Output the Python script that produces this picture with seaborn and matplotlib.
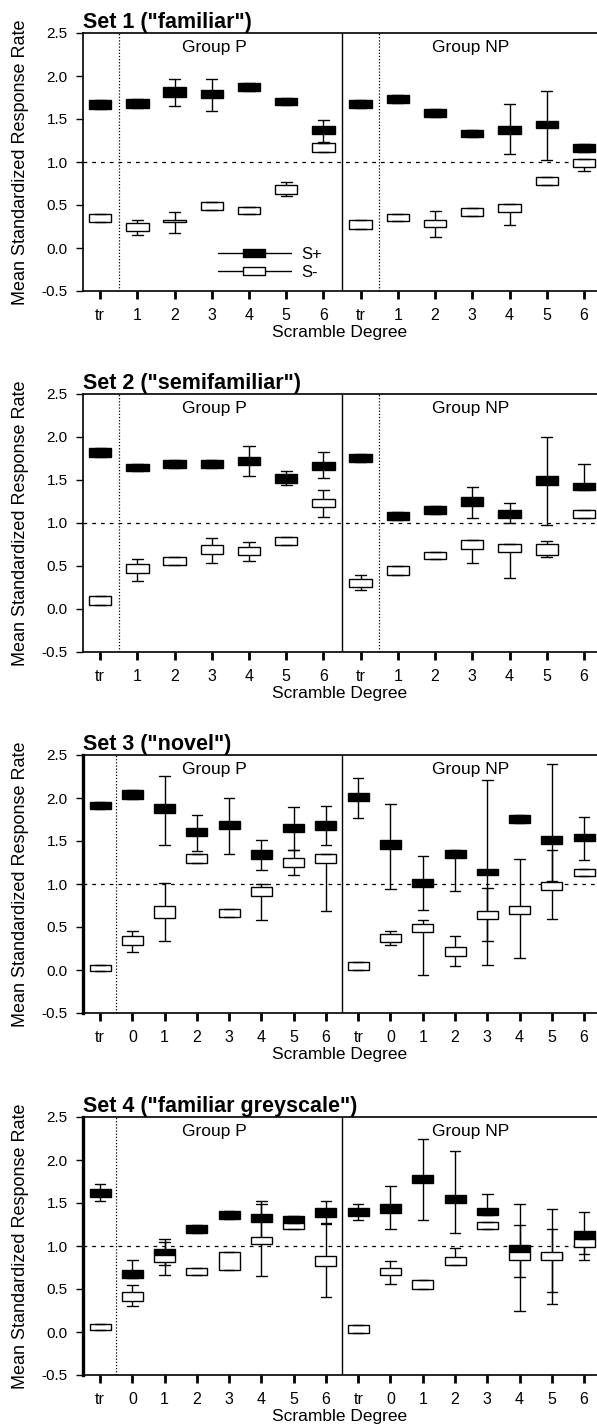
import numpy as np
import pandas as pd
import matplotlib
matplotlib.use("Agg")
import matplotlib.pyplot as plt
import seaborn as sns
from matplotlib.lines import Line2D
from matplotlib.path import Path

sns.set_style("ticks", {"axes.edgecolor": "black", "xtick.color": "black",
                        "ytick.color": "black", "text.color": "black",
                        "axes.labelcolor": "black"})
plt.rcParams["font.family"] = ["Liberation Sans", "DejaVu Sans"]

# tick labels of one group (sets 1-2 and sets 3-4)
labels_12 = ["tr", "1", "2", "3", "4", "5", "6"]
labels_34 = ["tr", "0", "1", "2", "3", "4", "5", "6"]

# each box: (lower whisker, box bottom, box top, upper whisker)
# Group P first, then Group NP
set1_splus = [(1.62, 1.62, 1.72, 1.72), (1.63, 1.63, 1.73, 1.73), (1.65, 1.76, 1.87, 1.96),
              (1.59, 1.74, 1.84, 1.96), (1.83, 1.83, 1.92, 1.92), (1.66, 1.66, 1.75, 1.75),
              (1.23, 1.32, 1.42, 1.49),
              (1.63, 1.63, 1.72, 1.72), (1.69, 1.69, 1.78, 1.78), (1.52, 1.52, 1.62, 1.62),
              (1.29, 1.29, 1.37, 1.37), (1.09, 1.32, 1.42, 1.68), (1.02, 1.40, 1.48, 1.83),
              (1.12, 1.12, 1.21, 1.21)]
set1_sminus = [(0.30, 0.30, 0.39, 0.39), (0.15, 0.20, 0.29, 0.33), (0.17, 0.30, 0.33, 0.42),
               (0.44, 0.44, 0.54, 0.54), (0.39, 0.39, 0.48, 0.48), (0.60, 0.63, 0.73, 0.77),
               (1.12, 1.12, 1.22, 1.22),
               (0.22, 0.22, 0.32, 0.32), (0.31, 0.31, 0.40, 0.40), (0.13, 0.24, 0.33, 0.43),
               (0.37, 0.37, 0.46, 0.46), (0.27, 0.42, 0.51, 0.51), (0.73, 0.73, 0.83, 0.83),
               (0.90, 0.94, 1.03, 1.03)]

set2_splus = [(1.77, 1.77, 1.87, 1.87), (1.61, 1.61, 1.69, 1.69), (1.64, 1.64, 1.73, 1.73),
              (1.64, 1.64, 1.73, 1.73), (1.55, 1.67, 1.77, 1.90), (1.44, 1.47, 1.57, 1.61),
              (1.52, 1.62, 1.71, 1.82),
              (1.71, 1.71, 1.80, 1.80), (1.04, 1.04, 1.13, 1.13), (1.10, 1.10, 1.20, 1.20),
              (1.06, 1.20, 1.30, 1.42), (1.00, 1.06, 1.15, 1.23), (0.98, 1.44, 1.55, 2.00),
              (1.38, 1.38, 1.47, 1.69)]
set2_sminus = [(0.05, 0.05, 0.15, 0.15), (0.33, 0.42, 0.52, 0.58), (0.51, 0.51, 0.60, 0.60),
               (0.54, 0.64, 0.74, 0.83), (0.56, 0.63, 0.72, 0.78), (0.74, 0.74, 0.84, 0.84),
               (1.07, 1.19, 1.28, 1.38),
               (0.22, 0.25, 0.35, 0.39), (0.40, 0.40, 0.50, 0.50), (0.58, 0.58, 0.66, 0.66),
               (0.54, 0.70, 0.80, 0.80), (0.36, 0.66, 0.76, 0.76), (0.60, 0.63, 0.75, 0.79),
               (1.06, 1.06, 1.15, 1.15)]

set3_splus = [(1.87, 1.87, 1.95, 1.95), (1.99, 1.99, 2.09, 2.09), (1.45, 1.82, 1.93, 2.26),
              (1.38, 1.56, 1.65, 1.80), (1.35, 1.64, 1.73, 2.00), (1.16, 1.29, 1.39, 1.51),
              (1.40, 1.61, 1.70, 1.90), (1.45, 1.63, 1.73, 1.91),
              (1.77, 1.96, 2.06, 2.23), (0.94, 1.41, 1.51, 1.93), (0.70, 0.96, 1.06, 1.32),
              (0.92, 1.30, 1.40, 1.40), (0.34, 1.10, 1.18, 2.21), (1.71, 1.71, 1.80, 1.80),
              (1.03, 1.47, 1.56, 2.40), (1.28, 1.50, 1.58, 1.78)]
set3_sminus = [(-0.01, -0.01, 0.06, 0.06), (0.21, 0.29, 0.39, 0.45), (0.34, 0.60, 0.74, 1.01),
               (1.25, 1.25, 1.35, 1.35), (0.62, 0.62, 0.71, 0.71), (0.58, 0.86, 0.96, 1.00),
               (1.11, 1.20, 1.30, 1.40), (0.69, 1.24, 1.35, 1.35),
               (0.00, 0.00, 0.09, 0.09), (0.29, 0.32, 0.42, 0.45), (-0.06, 0.44, 0.54, 0.58),
               (0.05, 0.16, 0.27, 0.39), (0.06, 0.59, 0.69, 0.95), (0.14, 0.65, 0.75, 1.29),
               (0.59, 0.93, 1.02, 1.40), (1.09, 1.09, 1.18, 1.18)]

set4_splus = [(1.52, 1.57, 1.66, 1.72), (0.63, 0.63, 0.72, 0.84), (0.78, 0.89, 0.96, 1.08),
              (1.15, 1.15, 1.24, 1.24), (1.31, 1.31, 1.41, 1.41), (1.04, 1.28, 1.37, 1.52),
              (1.27, 1.27, 1.35, 1.35), (1.27, 1.34, 1.44, 1.52),
              (1.30, 1.35, 1.44, 1.49), (1.20, 1.38, 1.49, 1.70), (1.30, 1.73, 1.83, 2.25),
              (1.15, 1.50, 1.59, 2.11), (1.36, 1.36, 1.44, 1.60), (0.25, 0.93, 1.01, 1.49),
              (0.46, 0.85, 0.92, 1.43), (0.91, 1.08, 1.17, 1.40)]
set4_sminus = [(0.02, 0.02, 0.09, 0.09), (0.30, 0.36, 0.46, 0.55), (0.66, 0.81, 0.89, 1.05),
               (0.66, 0.66, 0.75, 0.75), (0.72, 0.72, 0.93, 0.93), (0.65, 1.02, 1.10, 1.49),
               (1.20, 1.20, 1.27, 1.27), (0.41, 0.77, 0.88, 1.26),
               (-0.01, -0.01, 0.08, 0.08), (0.56, 0.66, 0.75, 0.83), (0.50, 0.50, 0.60, 0.60),
               (0.78, 0.78, 0.87, 0.98), (1.20, 1.20, 1.28, 1.28), (0.64, 0.84, 0.93, 1.24),
               (0.33, 0.84, 0.93, 1.20), (0.84, 0.99, 1.08, 1.08)]


def long_table(splus, sminus, labels):
    # five values per box so that min / 25% / 75% / max land on the read-off numbers
    cats = ["P " + l for l in labels] + ["NP " + l for l in labels]
    rows = []
    for stim, boxes in (("S+", splus), ("S-", sminus)):
        for cat, (lo, q1, q3, hi) in zip(cats, boxes):
            for v in (lo, q1, q1, q3, hi):
                rows.append((cat, stim, v))
    return pd.DataFrame(rows, columns=["cond", "stim", "rate"]), cats


def draw_panel(ax, title, splus, sminus, labels, width, xlim, np_dotted, left_lw):
    df, cats = long_table(splus, sminus, labels)
    ax.axhline(1.0, color="black", lw=0.9, ls=(0, (3, 4)), zorder=0.5)
    sns.boxplot(data=df, x="cond", y="rate", hue="stim", order=cats,
                hue_order=["S+", "S-"], palette={"S+": "black", "S-": "white"},
                saturation=1, dodge=False, width=width, whis=(0, 100),
                linecolor="black", linewidth=1, legend=False, ax=ax,
                medianprops={"visible": False})
    split = len(labels) - 0.5
    ax.axvline(split, color="black", lw=1)
    ax.axvline(0.5, color="black", lw=0.9, ls=(0, (1, 1.5)))
    if np_dotted:
        ax.axvline(split + 1, color="black", lw=0.9, ls=(0, (1, 1.5)))
    ax.set_xlim(xlim)
    ax.set_ylim(-0.5, 2.5)
    yt = [-0.5, 0.0, 0.5, 1.0, 1.5, 2.0, 2.5]
    ax.set_yticks(yt)
    ax.set_yticklabels([f"{v:.1f}" for v in yt])
    ax.set_xticks(range(len(cats)))
    ax.set_xticklabels(labels * 2)
    ax.tick_params(axis="x", direction="out", length=6, width=2, labelsize=11.5, pad=6)
    ax.tick_params(axis="y", direction="out", length=5, width=1, labelsize=11, pad=6)
    ax.set_title(title, loc="left", fontweight="bold", fontsize=15.5, pad=3)
    ax.set_xlabel("Scramble Degree", fontsize=12.5, labelpad=2)
    ax.set_ylabel("Mean Standardized Response Rate", fontsize=13, labelpad=9)
    ax.text(0.255, 0.945, "Group P", transform=ax.transAxes, ha="center", va="center",
            fontsize=12.5)
    ax.text(0.754, 0.945, "Group NP", transform=ax.transAxes, ha="center", va="center",
            fontsize=12.5)
    ax.spines["right"].set_visible(False)
    ax.spines["left"].set_linewidth(left_lw)
    ax.spines["top"].set_linewidth(1.2)
    ax.spines["bottom"].set_linewidth(1.2)


W, H = 597, 1426
fig = plt.figure(figsize=(W / 100, H / 100), dpi=100)
tops = [33, 394, 755, 1117]
axes = [fig.add_axes([83 / W, 1 - (t + 258) / H, 514 / W, 258 / H]) for t in tops]

draw_panel(axes[0], 'Set 1 ("familiar")', set1_splus, set1_sminus, labels_12,
           0.6, (-0.46, 13.35), True, 1.2)
draw_panel(axes[1], 'Set 2 ("semifamiliar")', set2_splus, set2_sminus, labels_12,
           0.6, (-0.46, 13.35), True, 1.2)
draw_panel(axes[2], 'Set 3 ("novel")', set3_splus, set3_sminus, labels_34,
           0.65, (-0.53, 15.4), False, 2.4)
draw_panel(axes[3], 'Set 4 ("familiar greyscale")', set4_splus, set4_sminus, labels_34,
           0.65, (-0.53, 15.4), False, 2.4)

# legend in the first panel
rect = Path([(-1, -0.33), (1, -0.33), (1, 0.33), (-1, 0.33), (-1, -0.33)],
            [Path.MOVETO, Path.LINETO, Path.LINETO, Path.LINETO, Path.CLOSEPOLY])
handles = [Line2D([], [], color="black", lw=1, marker=rect, markersize=16,
                  markerfacecolor="black", markeredgecolor="black"),
           Line2D([], [], color="black", lw=1, marker=rect, markersize=16,
                  markerfacecolor="white", markeredgecolor="black")]
axes[0].legend(handles, ["S+", "S-"], loc="center left", bbox_to_anchor=(0.262, 0.107),
               frameon=False, handlelength=4.4, handletextpad=0.6, labelspacing=0.15,
               borderpad=0, borderaxespad=0, fontsize=12)

fig.savefig("out.png", dpi=100)
